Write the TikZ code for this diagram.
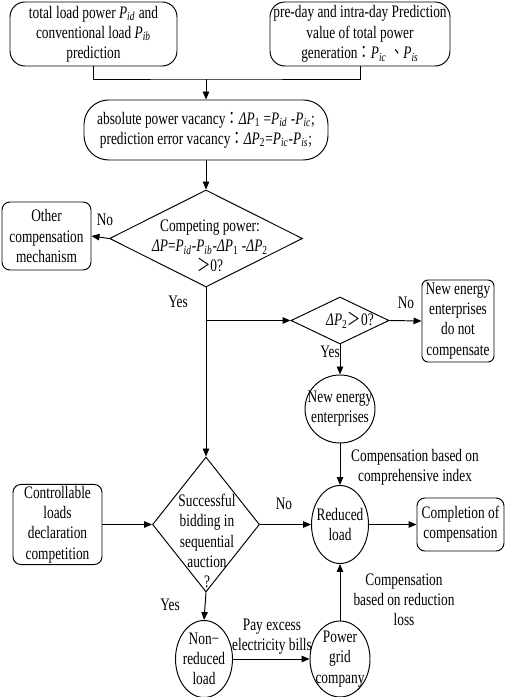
\documentclass[tikz,border=0pt]{standalone}
\usepackage{fontspec}
\setmainfont{Liberation Serif}[FakeStretch=0.76]
\newfontfamily\cjk{Noto Sans CJK TC}[FakeStretch=0.76]
\usepackage{tikz}
\usetikzlibrary{shapes.geometric,arrows.meta}
\newcommand{\pw}[1]{\textit{P}\textsubscript{\textit{#1}}}
\newcommand{\dpw}[1]{\textit{ΔP}\textsubscript{#1}}

\begin{document}
\begin{tikzpicture}[scale=1,line width=0.55pt,>={Triangle[length=1.6mm,width=1.3mm]},
		every node/.style={font=\fontsize{10}{11.5}\selectfont},
		box/.style={draw,rounded corners=4.5pt,align=center,inner sep=1pt},
		decision/.style={draw,diamond,inner sep=0pt},
		round/.style={draw,ellipse,inner sep=0pt}]
			\useasboundingbox (0,0) rectangle (10.1,13.94);
			\node[box,rounded corners=8.5pt,minimum width=3.34cm,minimum height=1.28cm] (loadPred) at (1.87,13.26) {total load power \pw{id} and\\conventional load \pw{ib}\\prediction};
			\node[box,rounded corners=8.5pt,minimum width=3.6cm,minimum height=1.28cm] (genPred) at (7.2,13.26) {pre-day and intra-day Prediction\\value of total power\\generation{\cjk ：}\pw{ic} {\cjk 、}\pw{is}};
			\coordinate (join) at (4.12,12.36);
			\node[box,rounded corners=14pt,minimum width=4.88cm,minimum height=1.2cm] (vacancy) at (4.12,11.34) {absolute power vacancy{\cjk ：}\dpw{1} =\pw{id} -\pw{ic};\\prediction error vacancy{\cjk ：}\dpw{2}=\pw{ic}-\pw{is};};
			\node[decision,minimum width=3.86cm,minimum height=1.94cm] (compete) at (4.12,9.17) {};
			\node[align=center] (competeText) at (4.2,9.02) {Competing power:\\\textit{ΔP}=\pw{id}-\pw{ib}-\dpw{1} -\dpw{2}\\{\cjk ＞}0?};
			\node[box,minimum width=1.78cm,minimum height=1.36cm] (other) at (0.93,9.22) {Other\\compensation\\mechanism};
			\node[decision,minimum width=1.96cm,minimum height=0.94cm] (check) at (6.8,7.53) {};
			\node[] (checkText) at (7.0,7.54) {\dpw{2}{\cjk ＞}0?};
			\node[box,rounded corners=3.5pt,minimum width=1.44cm,minimum height=1.64cm] (noComp) at (9.16,7.52) {New energy\\enterprises\\do not\\compensate};
			\node[round,minimum width=1.4cm,minimum height=1.36cm] (newEnergy) at (6.8,5.76) {};
			\node[align=center] (newEnergyText) at (newEnergy) {New energy\\enterprises};
			\node[round,minimum width=1.14cm,minimum height=1.56cm] (reduced) at (6.8,3.45) {};
			\node[align=center] (reducedText) at (reduced) {Reduced\\load};
			\node[box,minimum width=1.74cm,minimum height=1.06cm] (completion) at (9.21,3.45) {Completion of\\compensation};
			\node[decision,minimum width=2.14cm,minimum height=2.7cm] (bid) at (4.12,3.45) {};
			\node[align=center] (bidText) at (4.14,3.12) {Successful\\bidding in\\sequential\\auction\\?};
			\node[box,minimum width=1.78cm,minimum height=1.6cm] (control) at (1.15,3.45) {Controllable\\loads\\declaration\\competition};
			\node[round,minimum width=1.14cm,minimum height=1.54cm] (nonReduced) at (4.08,0.76) {};
			\node[align=center] (nonReducedText) at (nonReduced) {Non−\\reduced\\load};
			\node[round,minimum width=1.2cm,minimum height=1.52cm] (powerGrid) at (6.8,0.76) {};
			\node[align=center] (powerGridText) at (powerGrid) {Power\\grid\\company};

			\draw (loadPred.south) |- (join) -| (genPred.south);
			\draw[->] (join) -- (vacancy);
			\draw[->] (vacancy) -- (compete);
			\draw[->] (compete.west) -- (other.east);
			\draw[->] (compete.south) -- (bid.north);
			\draw[->] (compete.south |- check.west) -- (check.west);
			\draw[->] (check.east) -- (noComp.west);
			\draw[->] (check.south) -- (newEnergy.north);
			\draw[->] (newEnergy.south) -- (reduced.north);
			\draw[->] (reduced.east) -- (completion.west);
			\draw[->] (control.east) -- (bid.west);
			\draw[->] (bid.east) -- (reduced.west);
			\draw[->] (bid.south) -- (nonReduced.north);
			\draw[->] (nonReduced.east) -- (powerGrid.west);
			\draw[->] (powerGrid.north) -- (reduced.south);

			\node[] (noOther) at (2.1,9.54) {No};
			\node[] (yesCompete) at (3.56,7.9) {Yes};
			\node[] (noCheck) at (8.12,7.88) {No};
			\node[] (yesCheck) at (6.6,6.9) {Yes};
			\node[] (noBid) at (5.68,3.86) {No};
			\node[] (yesBid) at (3.4,1.84) {Yes};
			\node[align=center] (indexLabel) at (8.3,4.6) {Compensation based on\\comprehensive index};
			\node[align=center] (lossLabel) at (8.08,1.94) {Compensation\\based on reduction\\loss};
			\node[align=center] (payLabel) at (5.44,1.2) {Pay excess\\electricity bills};
		\end{tikzpicture}
\end{document}
